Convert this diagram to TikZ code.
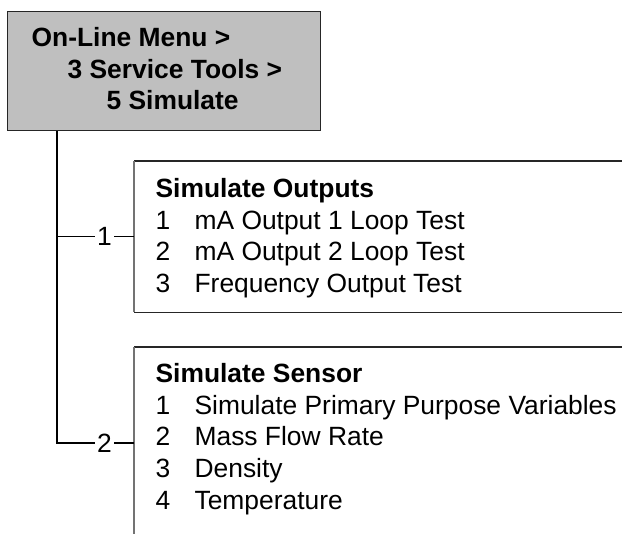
\documentclass[tikz,border=0pt]{standalone}
\usepackage{fontspec}
\setmainfont{Liberation Sans}
\usetikzlibrary{positioning}

\begin{document}
\begin{tikzpicture}[x=0.5pt, y=-0.5pt, line width=0.6pt, font=\fontsize{13.2}{15.9}\selectfont]
\tikzset{
  menubox/.style={draw=black!85, fill=black!25, anchor=north west, inner sep=0pt,
                  minimum width=156.5pt, minimum height=59.5pt},
  listbox/.style={anchor=north west, inner sep=0pt, minimum width=250pt},
  boxline/.style={draw=black!85},
  sideline/.style={draw=black!55},
  headtxt/.style={anchor=base west, inner sep=0pt, font=\fontsize{13.2}{15.9}\selectfont\bfseries},
  itemtxt/.style={anchor=base west, inner sep=0pt},
  branchlbl/.style={fill=white, inner sep=1pt}
}
\useasboundingbox (0,0) rectangle (622,534);

% menu path
\node[menubox] (menu) at (7,11) {};
\node[headtxt] (m1) at (31,47) {On-Line Menu >};
\node[headtxt] (m2) at (67,79) {3 Service Tools >};
\node[headtxt] (m3) at (106,110) {5 Simulate};

% open boxes
\node[listbox, minimum height=75pt] (outbox) at (134,161) {};
\node[listbox, minimum height=93pt] (senbox) at (134,347) {};

\draw[boxline] (outbox.north east) -- (outbox.north west);
\draw[boxline] (outbox.south west) -- (outbox.south east);
\draw[sideline] (outbox.north west) -- (outbox.south west);
\draw[boxline] (senbox.north east) -- (senbox.north west);
\draw[sideline] (senbox.north west) -- (senbox.south west);

% Simulate Outputs
\node[headtxt] (outhead) at (155,197.5) {Simulate Outputs};
\foreach \txt [count=\i] in {mA Output 1 Loop Test, mA Output 2 Loop Test, Frequency Output Test}
  \node[itemtxt] (out\i) at (155,197.5+31.7*\i) {\makebox[19.5pt][l]{\i}\txt};

% Simulate Sensor
\node[headtxt] (senhead) at (155,382.5) {Simulate Sensor};
\foreach \txt [count=\i] in {Simulate Primary Purpose Variables, Mass Flow Rate, Density, Temperature}
  \node[itemtxt] (sen\i) at (155,382.5+31.7*\i) {\makebox[19.5pt][l]{\i}\txt};

% tree lines
\coordinate (trunk) at ([xshift=25pt]menu.south west);
\coordinate (sen2in) at ([yshift=-48pt]senbox.north west);
\draw (outbox.west -| trunk) -- (outbox.west) node[pos=0.617, branchlbl] {1};
\draw (trunk) |- (sen2in) node[pos=0.808, branchlbl] {2};
\end{tikzpicture}
\end{document}
